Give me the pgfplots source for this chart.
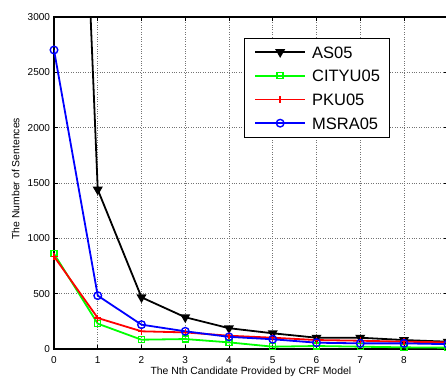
\documentclass[border=0pt]{standalone}
\usepackage{fontspec}
\setmainfont{Liberation Sans}
\usepackage{pgfplots}
\pgfplotsset{compat=1.18}
\definecolor{mgreen}{rgb}{0,1,0}
\definecolor{mred}{rgb}{1,0,0}
\definecolor{mblue}{rgb}{0,0,1}
\begin{document}
\begin{tikzpicture}
\begin{axis}[
  scale only axis,
  width=393.75pt, height=332pt,
  xmin=0, xmax=9, ymin=0, ymax=3000,
  xtick={0,1,...,9}, xticklabels={0,1,2,3,4,5,6,7,8,{}},
  ytick={0,500,...,3000},
  /pgf/number format/assume math mode=true,
  scaled y ticks=false,
  yticklabel style={/pgf/number format/1000 sep={}},
  ticklabel style={font=\fontsize{10}{12}\selectfont},
  xticklabel style={yshift=-3.6pt},
  yticklabel style={xshift=-0.5pt},
  tick align=inside,
  major tick length=4pt,
  tick style={black, line width=0.6pt},
  axis line style={line width=1.2pt},
  grid=major,
  major grid style={dotted, black!55, line width=0.7pt},
  xlabel={The Nth Candidate Provided by CRF Model},
  ylabel={The Number of Sentences},
  label style={font=\fontsize{10.4}{12}\selectfont},
  xlabel style={at={(axis description cs:0.5,-0.0765)}, anchor=base},
  ylabel style={at={(axis description cs:-0.088,0.513)}, anchor=base, rotate=0},
  legend cell align=left,
  legend image code/.code={\draw[mark repeat=2,mark phase=2,line width=1.8pt] plot coordinates {(0pt,0pt) (25pt,0pt) (50pt,0pt)};},
  legend style={at={(axis description cs:0.482,0.938)}, anchor=north west,
    draw=black, line width=1pt,
    font=\fontsize{16.5}{18}\selectfont,
    inner xsep=10pt, inner ysep=8pt, row sep=11.7pt, column sep=6pt,
    nodes={inner sep=0pt, text height=12pt, text depth=0pt},
    column 2/.style={text width=112pt}},
]
\addplot[black, line width=1.8pt, mark=triangle*, mark size=4pt, mark options={rotate=180, solid}]
  coordinates {(0,11000) (1,1440) (2,467) (3,287) (4,188) (5,142) (6,102) (7,102) (8,81) (9,66)};
\addlegendentry{AS05}
\addplot[mgreen, line width=1.8pt, mark=square, mark size=3pt, mark options={solid, line width=1.4pt}]
  coordinates {(0,861) (1,229) (2,84) (3,90) (4,60) (5,21) (6,27) (7,21) (8,15) (9,12)};
\addlegendentry{CITYU05}
\addlegendimage{legend image code/.code={
  \draw[mred, line width=1.8pt] (0pt,0pt) -- (50pt,0pt);
  \draw[mred, line width=1.4pt] (25pt,-3.5pt) -- (25pt,3.5pt) (21.5pt,0pt) -- (28.5pt,0pt);}}
\addlegendentry{PKU05}
\addplot[forget plot, draw=mred, line width=1.8pt, mark=+, mark size=3.5pt, mark options={draw=mred, solid, line width=1.4pt}]
  coordinates {(0,837) (1,280) (2,160) (3,150) (4,120) (5,102) (6,81) (7,75) (8,66) (9,60)};
\addplot[mblue, line width=1.8pt, mark=o, mark size=3.8pt, mark options={solid, line width=1.4pt}]
  coordinates {(0,2702) (1,482) (2,220) (3,160) (4,110) (5,88) (6,57) (7,51) (8,51) (9,44)};
\addlegendentry{MSRA05}
\coordinate (bl) at (axis description cs:0,0);
\end{axis}
\pgfresetboundingbox
\path[use as bounding box] ([xshift=-54pt,yshift=-27pt]bl) rectangle ([xshift=392pt,yshift=349pt]bl);
\end{tikzpicture}
\end{document}
